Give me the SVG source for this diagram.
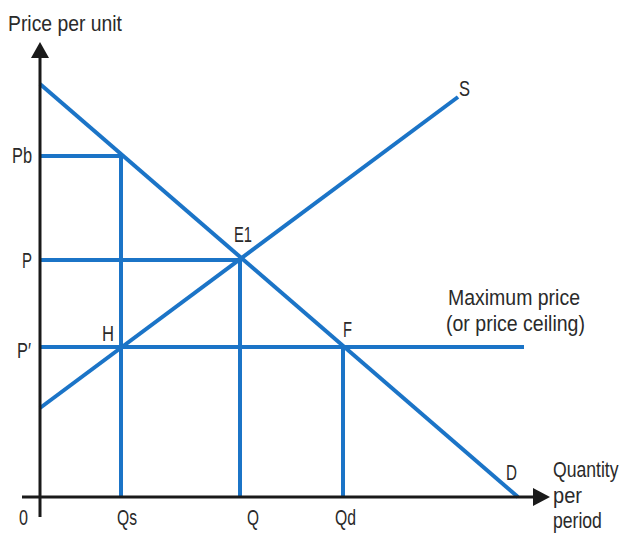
<svg xmlns="http://www.w3.org/2000/svg" width="626" height="533" viewBox="0 0 626 533">
<style>
.ax{stroke:#1a1a1a;stroke-width:3;fill:none}
.bl{stroke:#1b74c7;stroke-width:4;fill:none;stroke-linecap:butt}
text{font-family:"Liberation Sans",Arial,sans-serif;font-size:22px;fill:#2a2a2a}
</style>
<rect width="626" height="533" fill="#fff"/>
<g id="connectors">
<line class="bl" x1="40" y1="156" x2="121" y2="156"/>
<line class="bl" x1="121" y1="156" x2="121" y2="497"/>
<line class="bl" x1="40" y1="260" x2="240" y2="260"/>
<line class="bl" x1="240" y1="260" x2="240" y2="497"/>
<line class="bl" x1="40" y1="347" x2="524" y2="347"/>
<line class="bl" x1="343" y1="347" x2="343" y2="497"/>
<line class="bl" x1="40" y1="84" x2="518" y2="497"/>
<line class="bl" x1="40" y1="408" x2="458" y2="97"/>
</g>
<g id="axes">
<line class="ax" x1="40" y1="56" x2="40" y2="517"/>
<polygon points="40,42 31,58 49,58" fill="#1a1a1a"/>
<line class="ax" x1="22" y1="497" x2="534" y2="497"/>
<polygon points="550,497 533,488 533,506" fill="#1a1a1a"/>
</g>
<g id="labels">
<text x="8" y="31" textLength="114" lengthAdjust="spacingAndGlyphs">Price per unit</text>
<text x="12" y="163" textLength="20" lengthAdjust="spacingAndGlyphs">Pb</text>
<text x="22" y="268" textLength="10" lengthAdjust="spacingAndGlyphs">P</text>
<text x="17" y="358" textLength="14" lengthAdjust="spacingAndGlyphs">P′</text>
<text x="102" y="341" textLength="12" lengthAdjust="spacingAndGlyphs">H</text>
<text x="234" y="242" textLength="18" lengthAdjust="spacingAndGlyphs">E1</text>
<text x="343" y="337" textLength="9" lengthAdjust="spacingAndGlyphs">F</text>
<text x="459" y="96" textLength="11" lengthAdjust="spacingAndGlyphs">S</text>
<text x="506" y="480" textLength="11" lengthAdjust="spacingAndGlyphs">D</text>
<text x="448" y="305" textLength="132" lengthAdjust="spacingAndGlyphs">Maximum price</text>
<text x="446" y="331" textLength="139" lengthAdjust="spacingAndGlyphs">(or price ceiling)</text>
<text transform="translate(553 477) scale(0.8 1)">Quantity</text>
<text x="553" y="503" textLength="29" lengthAdjust="spacingAndGlyphs">per</text>
<text transform="translate(553 528) scale(0.8 1)">period</text>
<text x="19" y="525" textLength="9" lengthAdjust="spacingAndGlyphs">0</text>
<text x="117" y="525" textLength="20" lengthAdjust="spacingAndGlyphs">Qs</text>
<text x="247" y="525" textLength="12" lengthAdjust="spacingAndGlyphs">Q</text>
<text x="335" y="525" textLength="21" lengthAdjust="spacingAndGlyphs">Qd</text>
</g>
</svg>
